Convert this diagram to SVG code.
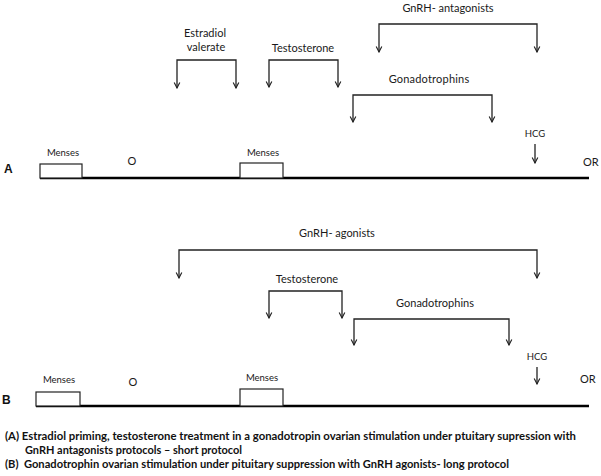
<svg xmlns="http://www.w3.org/2000/svg" width="601" height="476" viewBox="0 0 601 476">
<style>
.lbl{font-family:Lato,"Open Sans","Liberation Sans",sans-serif;font-size:11px;fill:#1a1a1a}
.sm{font-size:9.5px}
.ab{font-family:"Liberation Sans",Arial,sans-serif;font-weight:bold;font-size:12px;fill:#111}
.cap{font-family:Lato,"Liberation Sans",sans-serif;font-weight:bold;font-size:10.5px;fill:#111}
.br{fill:none;stroke:#222;stroke-width:1.3;marker-start:url(#ahs);marker-end:url(#ah)}
.ar{fill:none;stroke:#222;stroke-width:1.3;marker-end:url(#ah)}
.tl{stroke:#000;stroke-width:2.6}
.box{fill:#fff;stroke:#222;stroke-width:1.2}
</style>
<defs>
<marker id="ah" viewBox="0 0 10 10" refX="9" refY="5" markerWidth="7" markerHeight="8" markerUnits="userSpaceOnUse" orient="auto">
<path d="M1,1 L9,5 L1,9" fill="none" stroke="#222" stroke-width="1.6"/>
</marker>
<marker id="ahs" viewBox="0 0 10 10" refX="9" refY="5" markerWidth="7" markerHeight="8" markerUnits="userSpaceOnUse" orient="auto-start-reverse">
<path d="M1,1 L9,5 L1,9" fill="none" stroke="#222" stroke-width="1.6"/>
</marker>
</defs>
<rect width="601" height="476" fill="#fff"/>

<g id="connectors">
<path class="br" d="M177,88 V60 H236 V88"/>
<path class="br" d="M269,87 V60 H338 V87"/>
<path class="br" d="M379,52 V24 H537 V52"/>
<path class="br" d="M353,122 V95 H492 V122"/>
<path class="ar" d="M535,144 V163"/>
<path class="br" d="M179,278 V250 H537 V278"/>
<path class="br" d="M269,318 V291 H342 V318"/>
<path class="br" d="M354,345 V319 H509 V345"/>
<path class="ar" d="M537,367 V384"/>
</g>

<g id="panelA">
<g id="timelineA"><line class="tl" x1="40" y1="178" x2="589" y2="178"/></g>
<g id="mensesA1"><rect class="box" x="40" y="164" width="42" height="14"/><text class="lbl sm" x="63" y="156" text-anchor="middle">Menses</text></g>
<g id="mensesA2"><rect class="box" x="240" y="163" width="43" height="15"/><text class="lbl sm" x="263" y="156" text-anchor="middle">Menses</text></g>
<g id="oA"><text class="lbl" x="132" y="165" text-anchor="middle">O</text></g>
<g id="orA"><text class="lbl" x="583" y="166">OR</text></g>
<g id="labelA"><text class="ab" x="4" y="173">A</text></g>
<g id="estradiol"><text class="lbl" x="205" y="37" text-anchor="middle">Estradiol</text><text class="lbl" x="206" y="51" text-anchor="middle">valerate</text></g>
<g id="testoA"><text class="lbl" x="303" y="52" text-anchor="middle">Testosterone</text></g>
<g id="antag"><text class="lbl" x="448" y="12" text-anchor="middle">GnRH- antagonists</text></g>
<g id="gonadoA"><text class="lbl" x="429" y="83" text-anchor="middle" letter-spacing="0.2">Gonadotrophins</text></g>
<g id="hcgA"><text class="lbl sm" x="535" y="137" text-anchor="middle" font-size="10">HCG</text></g>
</g>

<g id="panelB">
<g id="timelineB"><line class="tl" x1="36" y1="406" x2="589" y2="406"/></g>
<g id="mensesB1"><rect class="box" x="36" y="392" width="44" height="14"/><text class="lbl sm" x="59" y="383" text-anchor="middle">Menses</text></g>
<g id="mensesB2"><rect class="box" x="240" y="389" width="43" height="17"/><text class="lbl sm" x="262" y="381" text-anchor="middle">Menses</text></g>
<g id="oB"><text class="lbl" x="133" y="386" text-anchor="middle">O</text></g>
<g id="orB"><text class="lbl" x="580" y="383">OR</text></g>
<g id="labelB"><text class="ab" x="2" y="404">B</text></g>
<g id="agon"><text class="lbl" x="337" y="237" text-anchor="middle">GnRH- agonists</text></g>
<g id="testoB"><text class="lbl" x="307" y="283" text-anchor="middle">Testosterone</text></g>
<g id="gonadoB"><text class="lbl" x="435" y="307" text-anchor="middle">Gonadotrophins</text></g>
<g id="hcgB"><text class="lbl sm" x="537" y="360" text-anchor="middle">HCG</text></g>
</g>

<g id="caption">
<text class="cap" x="5" y="440" textLength="571" lengthAdjust="spacingAndGlyphs">(A) Estradiol priming, testosterone treatment in a gonadotropin ovarian stimulation under ptuitary supression with</text>
<text class="cap" x="25" y="454" textLength="217" lengthAdjust="spacingAndGlyphs">GnRH antagonists protocols – short protocol</text>
<text class="cap" x="5" y="468" textLength="504" lengthAdjust="spacingAndGlyphs">(B)&#160; Gonadotrophin ovarian stimulation under pituitary suppression with GnRH agonists- long protocol</text>
</g>
</svg>
